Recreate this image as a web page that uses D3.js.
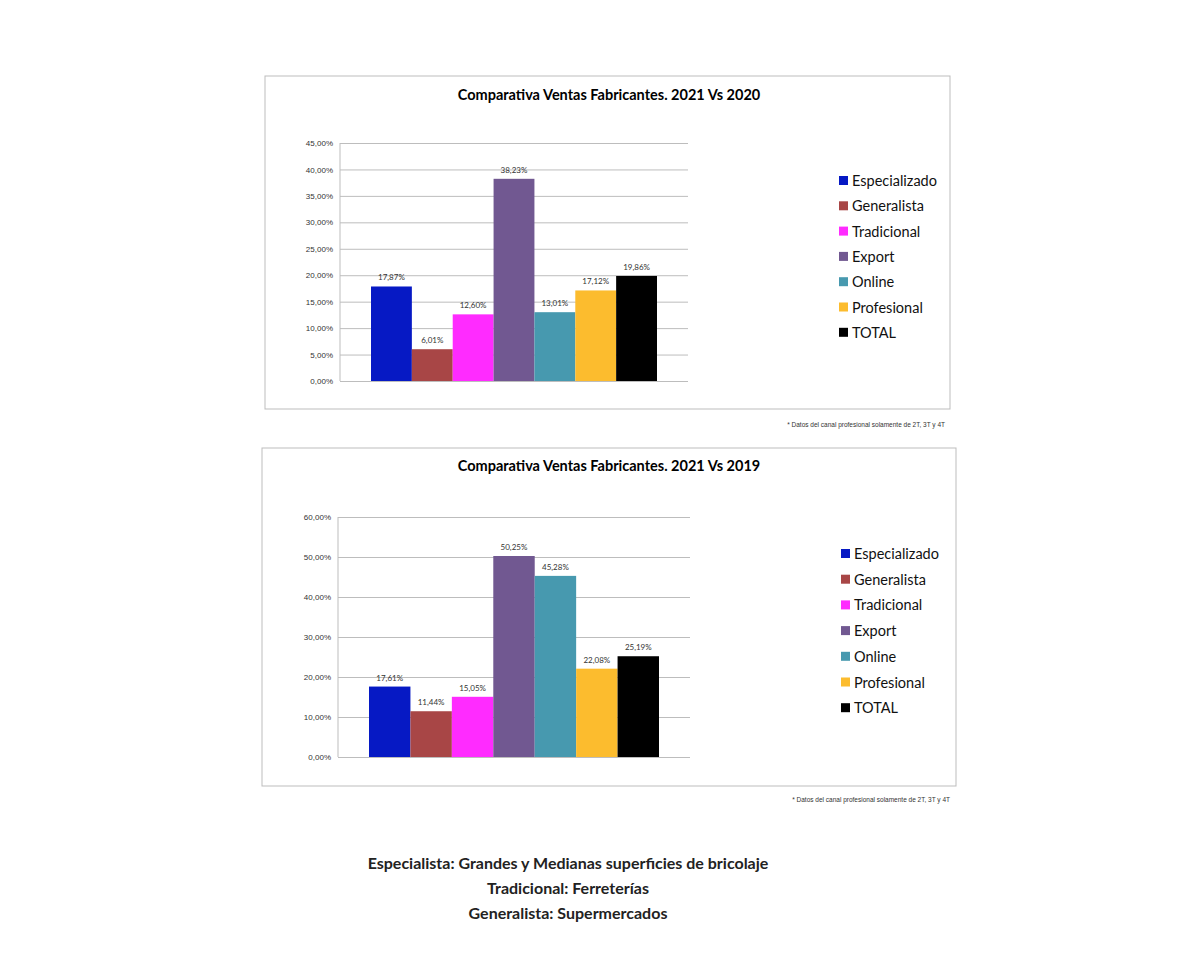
<!DOCTYPE html>
<html><head><meta charset="utf-8">
<script src="https://cdn.jsdelivr.net/npm/d3@7"></script>
<style>body{margin:0;background:#fff}svg{font-family:Lato,"Open Sans",sans-serif}</style>
</head><body><svg id="c" width="1190" height="970"></svg>
<script>
const categories=["Especializado","Generalista","Tradicional","Export","Online","Profesional","TOTAL"];
const colors=["#0619c4","#a84646","#ff2bff","#715891","#4799af","#fcbc2e","#000000"];
const values2020=[17.87,6.01,12.60,38.23,13.01,17.12,19.86];
const values2019=[17.61,11.44,15.05,50.25,45.28,22.08,25.19];
const ticks2020=[0,5,10,15,20,25,30,35,40,45];
const ticks2019=[0,10,20,30,40,50,60];
const notes=["Especialista: Grandes y Medianas superficies de bricolaje","Tradicional: Ferreterías","Generalista: Supermercados"];
const fmt=v=>v.toFixed(2).replace(".",",")+"%";
const svg=d3.select("#c");
function chart(o){
  const g=svg.append("g");
  g.append("rect").attr("x",o.box[0]).attr("y",o.box[1]).attr("width",o.box[2]).attr("height",o.box[3]).attr("fill","#fff").attr("stroke","#bdbdbd");
  g.append("text").attr("x",o.tx).attr("y",o.ty).attr("text-anchor","middle").attr("font-weight","bold").attr("font-size",14.5).text(o.title);
  const y=d3.scaleLinear().domain([0,o.max]).range([o.bottom,o.top]);
  const x=d3.scaleBand().domain(categories).range([o.b0,o.b1]).padding(0);
  const ax=g.append("g").attr("transform",`translate(${o.left},0)`).call(d3.axisLeft(y).tickValues(o.ticks).tickSize(-(o.right-o.left)).tickFormat(d=>d.toFixed(2).replace(".",",")+"%"));
  ax.select(".domain").remove();
  ax.selectAll(".tick line").attr("stroke","#bdbdbd").attr("stroke-width",1);
  ax.selectAll(".tick text").attr("font-size",8).attr("x",-7).attr("fill","#333");
  g.append("line").attr("x1",o.left).attr("x2",o.left).attr("y1",o.top).attr("y2",o.bottom).attr("stroke","#bdbdbd");
  g.selectAll(".b").data(o.vals).join("rect").attr("x",(d,i)=>x(categories[i])).attr("width",x.bandwidth()).attr("y",d=>y(d)).attr("height",d=>o.bottom-y(d)).attr("fill",(d,i)=>colors[i]);
  g.selectAll(".l").data(o.vals).join("text").attr("x",(d,i)=>x(categories[i])+x.bandwidth()/2).attr("y",d=>y(d)-6).attr("text-anchor","middle").attr("font-size",8).attr("fill","#333").text(fmt);
  categories.forEach((c,i)=>{
    const yy=o.ly+i*o.ls;
    g.append("rect").attr("x",o.lx).attr("y",yy-5).attr("width",9).attr("height",9).attr("fill",colors[i]);
    g.append("text").attr("x",o.lx+13).attr("y",yy+5).attr("font-size",14.5).attr("fill","#111").text(c);
  });
  g.append("text").attr("x",o.fx).attr("y",o.fy).attr("text-anchor","end").attr("font-size",6.5).attr("font-family","Liberation Sans,Arial").attr("fill","#333").text("* Datos del canal profesional solamente de 2T, 3T y 4T");
}
chart({box:[265,76,685,333],title:"Comparativa Ventas Fabricantes. 2021 Vs 2020",tx:609,ty:100,max:45,ticks:ticks2020,top:143,bottom:381,left:340,right:688,b0:371,b1:657,vals:values2020,lx:839,ly:181,ls:25.3,fx:945,fy:427});
chart({box:[262,448,694,338],title:"Comparativa Ventas Fabricantes. 2021 Vs 2019",tx:609,ty:471,max:60,ticks:ticks2019,top:517,bottom:757,left:338,right:690,b0:369,b1:659,vals:values2019,lx:841,ly:554,ls:25.7,fx:950,fy:802});
notes.forEach((t,i)=>svg.append("text").attr("x",568).attr("y",869+i*25).attr("text-anchor","middle").attr("font-weight","bold").attr("font-size",16).attr("fill","#222").text(t));
</script></body></html>
